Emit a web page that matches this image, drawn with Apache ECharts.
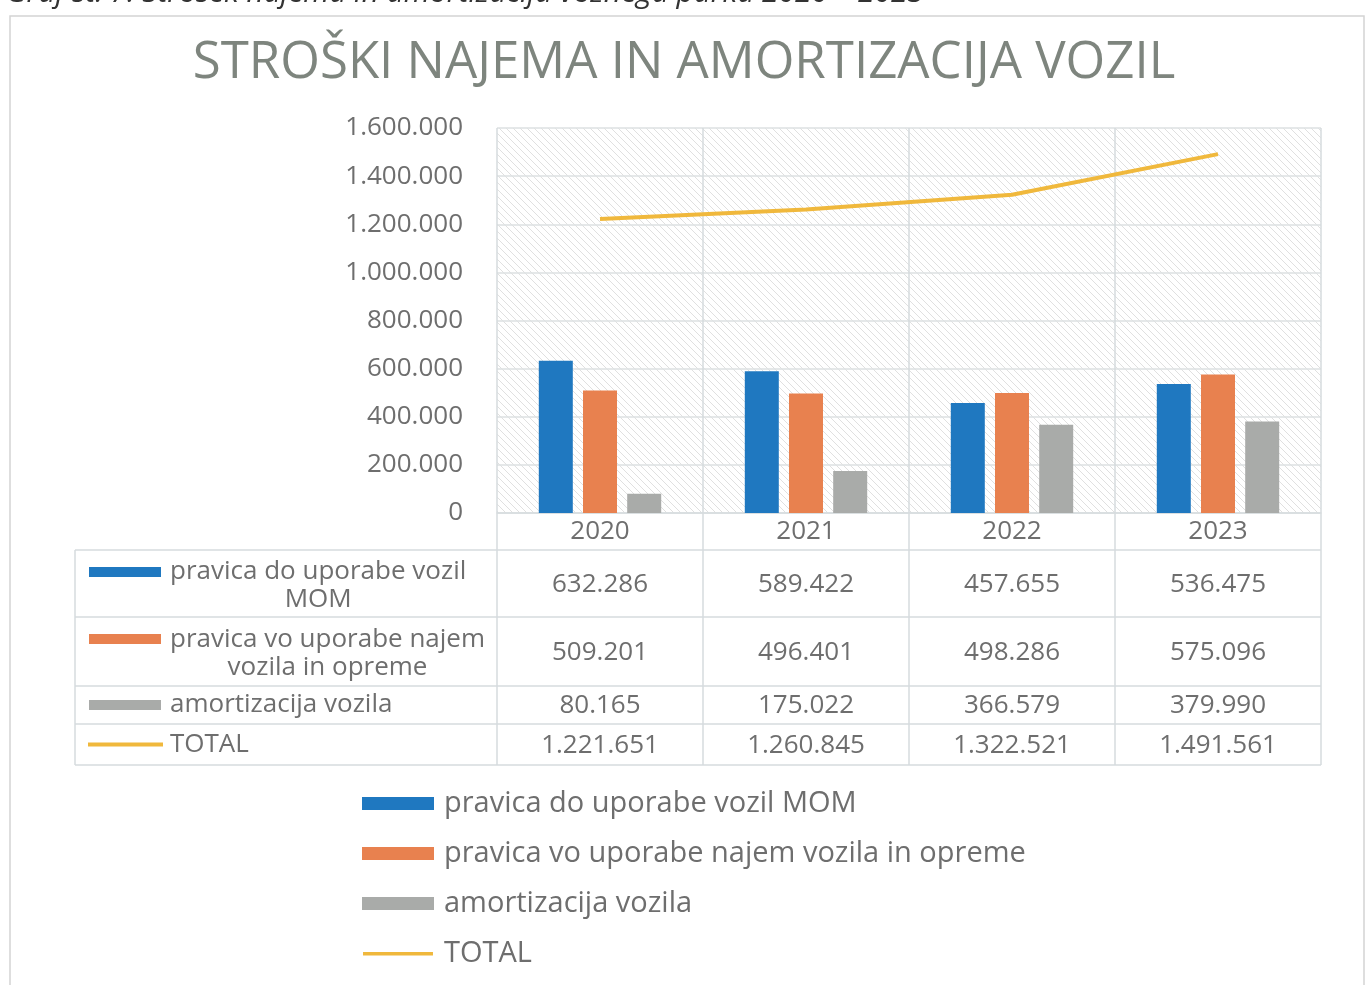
<!DOCTYPE html>
<html>
<head>
<meta charset="utf-8">
<title>Stroški najema in amortizacija vozil</title>
<script src="https://cdn.jsdelivr.net/npm/echarts@6/dist/echarts.min.js"></script>
<style>
  html, body { margin: 0; padding: 0; background: #fff; }
  #main { width: 1368px; height: 985px; }
</style>
</head>
<body>
<div id="main"></div>
<script>
// data
var years = ['2020', '2021', '2022', '2023'];
var seriesNames = [
    'pravica do uporabe vozil MOM',
    'pravica vo uporabe najem vozila in opreme',
    'amortizacija vozila',
    'TOTAL'
];
var rowLabels = [
    'pravica do uporabe vozil\nMOM',
    'pravica vo uporabe najem\nvozila in opreme',
    'amortizacija vozila',
    'TOTAL'
];
var momValues = [632286, 589422, 457655, 536475];
var najemValues = [509201, 496401, 498286, 575096];
var amortValues = [80165, 175022, 366579, 379990];
var totalValues = [1221651, 1260845, 1322521, 1491561];
var yTicks = [0, 200000, 400000, 600000, 800000, 1000000, 1200000, 1400000, 1600000];

var colors = ['#1f78c0', '#e8814f', '#a9aba9', '#f0b83c'];
var textColor = '#6e6e6e';
var lineColor = '#d6dbde';
var font = '"Open Sans", sans-serif';

// plot area
var gridLeft = 497, gridRight = 1321, gridTop = 128, gridBottom = 513;
var catW = (gridRight - gridLeft) / years.length;
// data table rows (top edges) under the plot
var tableLeft = 75;
var rowEdges = [550, 617, 686, 724, 765];
var labelX = 170;

function fmt(v) {
    return String(v).replace(/\B(?=(\d{3})+(?!\d))/g, '.');
}

var measureCtx = document.createElement('canvas').getContext('2d');
function textWidth(str, f) {
    measureCtx.font = f;
    return measureCtx.measureText(str).width;
}

function hatch() {
    var c = document.createElement('canvas');
    c.width = 7; c.height = 7;
    var ctx = c.getContext('2d');
    ctx.strokeStyle = 'rgba(0,0,0,0.12)';
    ctx.lineWidth = 1;
    ctx.beginPath();
    ctx.moveTo(-1, -1); ctx.lineTo(8, 8);
    ctx.moveTo(-1, 6); ctx.lineTo(1, 8);
    ctx.moveTo(6, -1); ctx.lineTo(8, 1);
    ctx.stroke();
    return c;
}

function buildGraphic() {
    var g = [];
    // caption above the chart (cut off at top of the scan)
    g.push({
        type: 'text', left: 6, top: -22,
        style: { text: 'Graf št. 7: Strošek najema in amortizacija voznega parka 2020 – 2023',
                 font: 'italic 30px ' + font, fill: '#333' }
    });
    // outer chart frame
    g.push({
        type: 'rect', shape: { x: 10, y: 16, width: 1354, height: 980 },
        style: { fill: 'none', stroke: '#d4d4d4', lineWidth: 1.5 }, z: -2
    });
    // hatched plot background
    g.push({
        type: 'rect', shape: { x: gridLeft, y: gridTop, width: gridRight - gridLeft, height: gridBottom - gridTop },
        style: { fill: { image: hatch(), repeat: 'repeat' } }, z: -1
    });
    // table horizontal lines
    rowEdges.forEach(function (y) {
        g.push({ type: 'line', shape: { x1: tableLeft, y1: y, x2: gridRight, y2: y },
                 style: { stroke: lineColor, lineWidth: 1.5 } });
    });
    // table vertical lines
    g.push({ type: 'line', shape: { x1: tableLeft, y1: rowEdges[0], x2: tableLeft, y2: rowEdges[4] },
             style: { stroke: lineColor, lineWidth: 1.5 } });
    for (var i = 0; i <= years.length; i++) {
        var x = gridLeft + i * catW;
        g.push({ type: 'line', shape: { x1: x, y1: gridBottom, x2: x, y2: rowEdges[4] },
                 style: { stroke: lineColor, lineWidth: 1.5 } });
    }
    // row keys and labels
    var rowFont = '26px ' + font;
    var rows = [momValues, najemValues, amortValues, totalValues];
    rows.forEach(function (vals, r) {
        var top = rowEdges[r], bottom = rowEdges[r + 1];
        var mid = (top + bottom) / 2;
        var lines = rowLabels[r].split('\n');
        var multi = lines.length > 1;
        var keyY = multi ? top + 22 : mid;
        if (r < 3) {
            g.push({ type: 'rect', shape: { x: 89, y: keyY - 5, width: 72, height: 10 },
                     style: { fill: colors[r] } });
        } else {
            g.push({ type: 'line', shape: { x1: 88, y1: keyY, x2: 163, y2: keyY },
                     style: { stroke: colors[r], lineWidth: 4 } });
        }
        // multi-line labels are centred under their first line, which starts at labelX
        var cx = labelX + textWidth(lines[0], rowFont) / 2;
        g.push({
            type: 'text',
            style: {
                text: rowLabels[r], x: multi ? cx : labelX, y: multi ? mid + 2 : mid,
                align: multi ? 'center' : 'left', verticalAlign: 'middle',
                font: rowFont, fill: textColor, lineHeight: 28
            }
        });
        vals.forEach(function (v, c) {
            g.push({
                type: 'text',
                style: {
                    text: fmt(v), x: gridLeft + (c + 0.5) * catW, y: mid + 1,
                    align: 'center', verticalAlign: 'middle',
                    font: rowFont, fill: textColor
                }
            });
        });
    });
    return g;
}

var chart = echarts.init(document.getElementById('main'));

var option = {
    animation: false,
    title: {
        text: 'STROŠKI NAJEMA IN AMORTIZACIJA VOZIL',
        left: 'center', top: 33,
        textStyle: { fontFamily: font, fontSize: 51, fontWeight: 'normal', color: '#7e857e' }
    },
    grid: {
        left: gridLeft, top: gridTop,
        width: gridRight - gridLeft, height: gridBottom - gridTop
    },
    legend: {
        orient: 'vertical', left: 357, top: 784,
        itemWidth: 72, itemHeight: 13, itemGap: 21,
        textStyle: { fontFamily: font, fontSize: 29, color: textColor, padding: [0, 0, 0, 5] },
        data: [
            { name: seriesNames[0], icon: 'rect' },
            { name: seriesNames[1], icon: 'rect' },
            { name: seriesNames[2], icon: 'rect' },
            // thin line key: the tiny slivers keep the path box at full item height
            { name: seriesNames[3], icon: 'path://M0,0L0.5,0L0.5,0.01Z M0,5L70,5L70,8.5L0,8.5Z M0,13L0.5,13L0.5,13.01Z' }
        ]
    },
    xAxis: {
        type: 'category', data: years,
        axisLine: { lineStyle: { color: lineColor, width: 1.5 } },
        axisTick: { show: false },
        splitLine: { show: true, interval: 0, lineStyle: { color: lineColor, width: 1.5 } },
        axisLabel: { fontFamily: font, fontSize: 26, color: textColor, margin: 6 }
    },
    yAxis: {
        type: 'value', min: 0, max: yTicks[yTicks.length - 1], interval: yTicks[1],
        axisLine: { show: false }, axisTick: { show: false },
        splitLine: { lineStyle: { color: '#dde0e2', width: 1.5 } },
        axisLabel: { fontFamily: font, fontSize: 26, color: textColor, margin: 34, formatter: fmt }
    },
    series: [
        { name: seriesNames[0], type: 'bar', data: momValues, barWidth: 34, barGap: '30%',
          itemStyle: { color: colors[0] } },
        { name: seriesNames[1], type: 'bar', data: najemValues, barWidth: 34, barGap: '30%',
          itemStyle: { color: colors[1] } },
        { name: seriesNames[2], type: 'bar', data: amortValues, barWidth: 34, barGap: '30%',
          itemStyle: { color: colors[2] } },
        { name: seriesNames[3], type: 'line', data: totalValues, symbol: 'none',
          lineStyle: { color: colors[3], width: 4 }, itemStyle: { color: colors[3] } }
    ],
    graphic: buildGraphic()
};

chart.setOption(option);
</script>
</body>
</html>
